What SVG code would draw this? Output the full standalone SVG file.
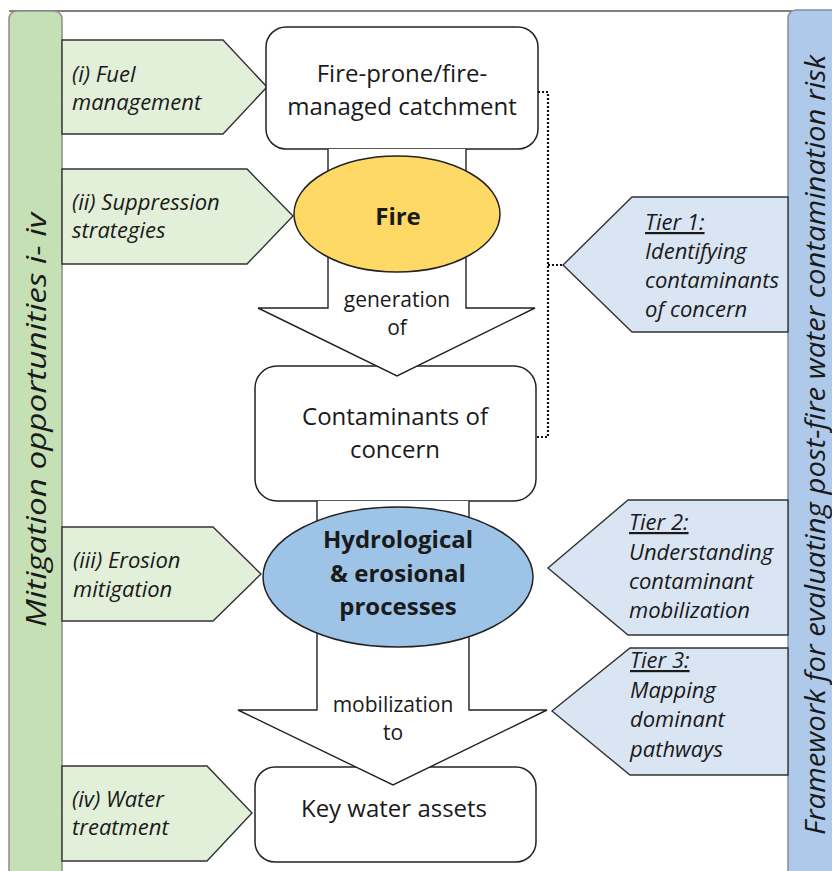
<svg xmlns="http://www.w3.org/2000/svg" width="832" height="871" viewBox="0 0 832 871">
<style>
  .t { font-family: "Open Sans", "Liberation Sans", sans-serif; fill: #1a1a1a; }
  .main { font-size: 24px; text-anchor: middle; }
  .bold { font-size: 24px; font-weight: bold; text-anchor: middle; }
  .it { font-size: 22px; font-style: italic; }
  .side { font-size: 28px; font-style: italic; text-anchor: middle; }
  .gp { fill: #e2efd9; stroke: #333; stroke-width: 1.4; }
  .bp { fill: #dae5f3; stroke: #333; stroke-width: 1.4; }
  .box { fill: #fff; stroke: #222; stroke-width: 1.5; }
  .arr { fill: #fff; stroke: #222; stroke-width: 1.4; }
  .dot { fill: none; stroke: #111; stroke-width: 2.2; stroke-dasharray: 2 2; }
</style>
<rect width="832" height="871" fill="#fff"/>
<line x1="9" y1="11" x2="792" y2="11" stroke="#808080" stroke-width="2"/>

<g id="mitigation-bar">
  <rect x="9" y="11" width="53" height="880" rx="8" fill="#c5e0b4" stroke="#8c8c8c" stroke-width="1.5"/>
  <text class="t side" transform="translate(46,420) rotate(-90)" textLength="414" lengthAdjust="spacingAndGlyphs">Mitigation opportunities i- iv</text>
</g>
<g id="framework-bar">
  <rect x="788" y="10" width="60" height="880" rx="8" fill="#aec9e9" stroke="#7f8fa6" stroke-width="1.5"/>
  <text class="t side" transform="translate(825,445) rotate(-90)" textLength="780" lengthAdjust="spacingAndGlyphs">Framework for evaluating post-fire water contamination risk</text>
</g>

<g id="m1">
  <polygon class="gp" points="62,40 223,40 267,87 223,134 62,134"/>
  <text class="t it" x="72" y="82">(i) Fuel</text>
  <text class="t it" x="72" y="110">management</text>
</g>
<g id="m2">
  <polygon class="gp" points="62,169 247,169 293,216 247,264 62,264"/>
  <text class="t it" x="72" y="210">(ii) Suppression</text>
  <text class="t it" x="72" y="238">strategies</text>
</g>
<g id="m3">
  <polygon class="gp" points="62,527 213,527 261,574 213,621 62,621"/>
  <text class="t it" x="73" y="568">(iii) Erosion</text>
  <text class="t it" x="73" y="597">mitigation</text>
</g>
<g id="m4">
  <polygon class="gp" points="62,766 207,766 252,813 207,861 62,861"/>
  <text class="t it" x="72" y="807">(iv) Water</text>
  <text class="t it" x="72" y="835">treatment</text>
</g>

<g id="tier1">
  <polygon class="bp" points="788,197 632,197 563,265 632,332 788,332"/>
  <text class="t it" x="645" y="230" text-decoration="underline">Tier 1:</text>
  <text class="t it" x="645" y="259">Identifying</text>
  <text class="t it" x="645" y="288">contaminants</text>
  <text class="t it" x="645" y="317">of concern</text>
</g>
<g id="tier2">
  <polygon class="bp" points="788,500 628,500 548,568 628,635 788,635"/>
  <text class="t it" x="629" y="530" text-decoration="underline">Tier 2:</text>
  <text class="t it" x="629" y="560">Understanding</text>
  <text class="t it" x="629" y="589">contaminant</text>
  <text class="t it" x="629" y="618">mobilization</text>
</g>
<g id="tier3">
  <polygon class="bp" points="788,648 630,648 552,711 630,775 788,775"/>
  <text class="t it" x="630" y="668" text-decoration="underline">Tier 3:</text>
  <text class="t it" x="630" y="698">Mapping</text>
  <text class="t it" x="630" y="727">dominant</text>
  <text class="t it" x="630" y="757">pathways</text>
</g>

<g id="catchment">
  <rect class="box" x="266" y="27" width="272" height="122" rx="20"/>
  <text class="t main" x="402" y="82">Fire-prone/fire-</text>
  <text class="t main" x="402" y="115">managed catchment</text>
</g>
<g id="contaminants">
  <rect class="box" x="255" y="366" width="281" height="135" rx="22"/>
  <text class="t main" x="395" y="425">Contaminants of</text>
  <text class="t main" x="395" y="458">concern</text>
</g>
<g id="assets">
  <rect class="box" x="255" y="767" width="281" height="95" rx="20"/>
  <text class="t main" x="394" y="817">Key water assets</text>
</g>

<g id="connectors">
  <path class="arr" d="M328,149 L328,308 L258,308 L397,376 L535,308 L466,308 L466,149"/>
  <text class="t" x="397" y="307" font-size="21" text-anchor="middle">generation</text>
  <text class="t" x="397" y="335" font-size="21" text-anchor="middle">of</text>
  <path class="arr" d="M317,501 L317,710 L238,710 L393,785 L547,710 L469,710 L469,501"/>
  <text class="t" x="393" y="712" font-size="21" text-anchor="middle">mobilization</text>
  <text class="t" x="393" y="740" font-size="21" text-anchor="middle">to</text>
  <path class="dot" d="M538,92 H548 V437 H537 M548,265 H563"/>
</g>

<g id="fire">
  <ellipse cx="397" cy="214" rx="103" ry="58" fill="#ffd966" stroke="#222" stroke-width="1.5"/>
  <text class="t bold" x="398" y="225" font-size="26">Fire</text>
</g>
<g id="hydro">
  <ellipse cx="398" cy="577" rx="135" ry="70" fill="#9dc3e6" stroke="#222" stroke-width="1.5"/>
  <text class="t bold" x="398" y="548">Hydrological</text>
  <text class="t bold" x="398" y="582">&amp; erosional</text>
  <text class="t bold" x="398" y="615">processes</text>
</g>
</svg>
